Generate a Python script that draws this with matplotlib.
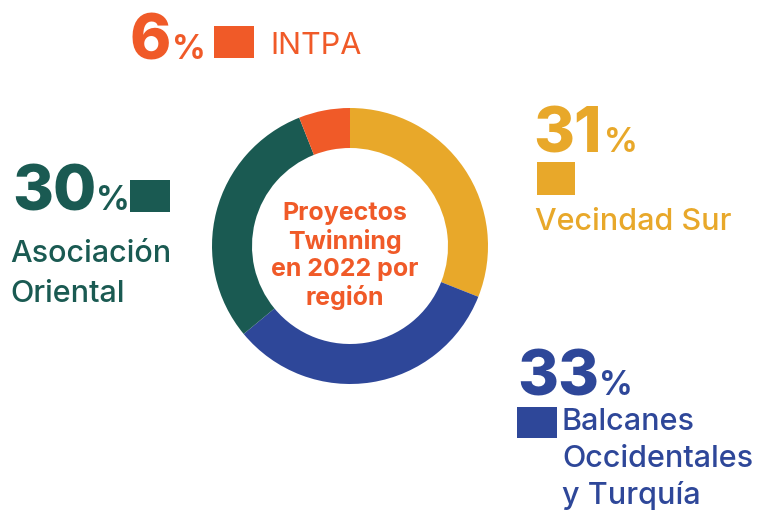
import matplotlib.pyplot as plt
from matplotlib.patches import Rectangle

# data
regions = ["Vecindad Sur", "Balcanes\nOccidentales\ny Turquía", "Asociación\nOriental", "INTPA"]
shares = [31, 33, 30, 6]
colors = ["#E8A82A", "#2E4799", "#1A5A52", "#F05A28"]
title = "Proyectos\nTwinning\nen 2022 por\nregión"

plt.rcParams['font.family'] = ['Inter', 'DejaVu Sans']

W, H = 757, 511
fig = plt.figure(figsize=(W / 100, H / 100), dpi=100)
ax = fig.add_axes([0, 0, 1, 1])

def Y(y):
    # pixel row (from top) -> data y
    return H - y

ax.pie(shares, colors=colors, startangle=90, counterclock=False,
       center=(350, Y(246)), radius=138,
       wedgeprops=dict(width=40, linewidth=0))
ax.set_xlim(0, W)
ax.set_ylim(0, H)
ax.set_aspect('equal')
ax.axis('off')

ax.text(345, Y(256), title, color="#F05A28", fontsize=18, fontweight='bold',
        ha='center', va='center', linespacing=1.2)

# label layout per region
lab = {
    "INTPA": dict(nx=130, ny=59, px=172, sq=(214, 26, 40, 32), tx=270, ty=54, gap=0, w='normal'),
    "Vecindad Sur": dict(nx=533, ny=152, px=604, sq=(537, 162, 38, 33), tx=535, ty=230, gap=0, w='medium'),
    "Asociación\nOriental": dict(nx=12, ny=210, px=96, sq=(130, 180, 40, 32), tx=10, ty=262, gap=40, w='medium'),
    "Balcanes\nOccidentales\ny Turquía": dict(nx=517, ny=395, px=599, sq=(517, 407, 40, 31), tx=562, ty=430, gap=37, w='medium'),
}

for name, val, c in zip(regions, shares, colors):
    d = lab[name]
    ax.text(d['nx'], Y(d['ny']), str(val), color=c, fontsize=45, fontweight='heavy',
            ha='left', va='baseline')
    ax.text(d['px'], Y(d['ny']), "%", color=c, fontsize=24, fontweight='bold',
            ha='left', va='baseline')
    x0, y0, w, h = d['sq']
    ax.add_patch(Rectangle((x0, Y(y0 + h)), w, h, color=c, lw=0))
    for k, line in enumerate(name.split("\n")):
        ax.text(d['tx'], Y(d['ty'] + k * d['gap']), line, color=c, fontsize=22,
                fontweight=d['w'], ha='left', va='baseline')

fig.savefig("out.png", dpi=100)
